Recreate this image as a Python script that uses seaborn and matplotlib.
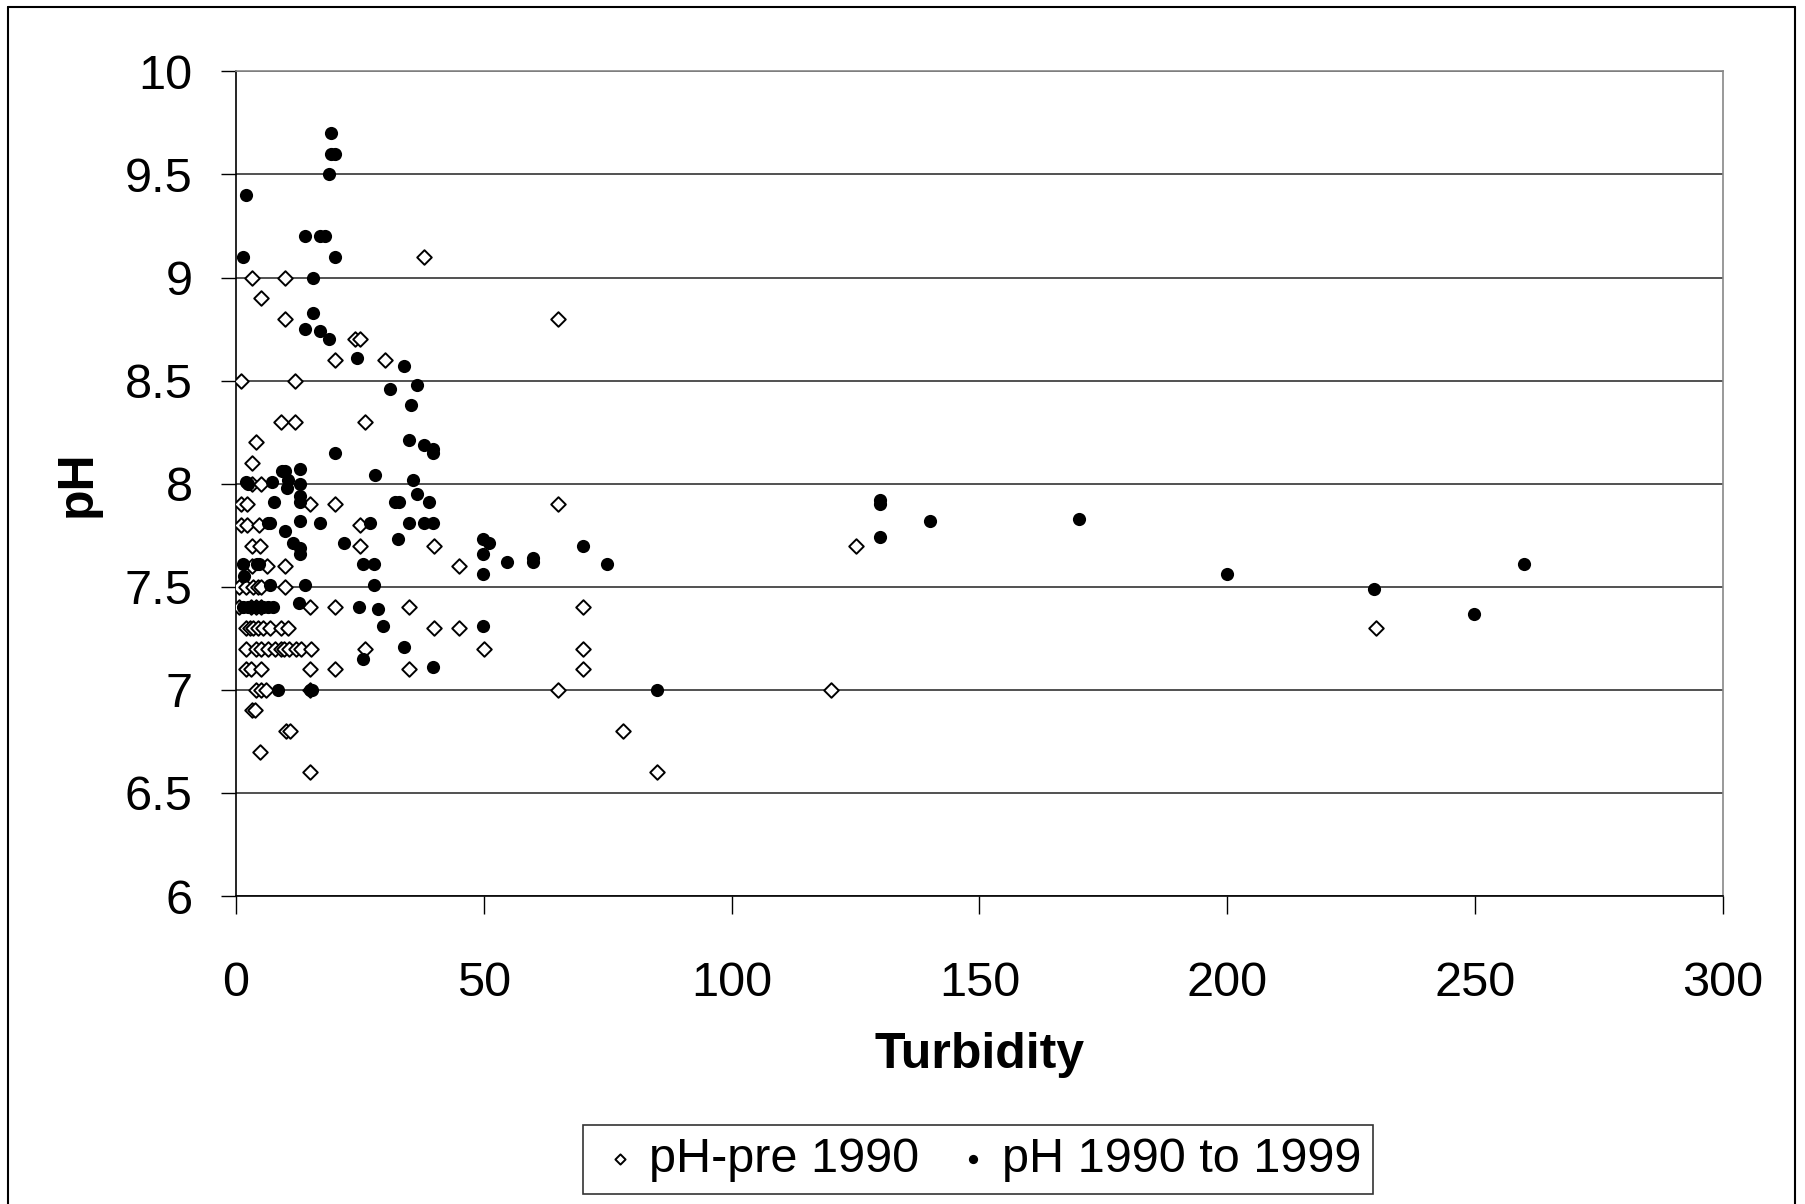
import numpy as np
import pandas as pd
import matplotlib
matplotlib.use("Agg")
import matplotlib.pyplot as plt
from matplotlib.ticker import FormatStrFormatter
from matplotlib.lines import Line2D
import seaborn as sns

# ---- data: pH-pre 1990 (open diamonds) ----
pre_turbidity = [38, 3.2, 10, 5, 10, 24, 25, 20, 30, 1, 12, 65,
                 9, 12, 26, 4, 3.2, 3.2, 5,
                 1, 2.2, 15, 20, 65,
                 1, 2.2, 4.7, 25,
                 3.2, 4.8, 25, 40, 125,
                 3.2, 6.3, 10, 45,
                 0.7, 2.1, 3.4, 4.4, 5.1, 10,
                 0.7, 3, 4, 5, 15, 20, 35, 70,
                 2.1, 2.8, 3.4, 4.4, 5.4, 6.8, 9.1, 10.5, 40, 45, 230,
                 2.1, 4.1, 5.1, 6.5, 7.8, 9.1, 9.8, 10.8, 12.2, 13.2, 15.2, 26, 50, 70,
                 2.1, 3, 5.1, 15, 20, 35, 70,
                 4.1, 5.1, 6.1, 15, 65, 120,
                 3.2, 3.8,
                 10.2, 10.9, 78,
                 4.8,
                 15, 85]
pre_ph = [9.1, 9.0, 9.0, 8.9, 8.8, 8.7, 8.7, 8.6, 8.6, 8.5, 8.5, 8.8,
          8.3, 8.3, 8.3, 8.2, 8.1, 8.0, 8.0,
          7.9, 7.9, 7.9, 7.9, 7.9,
          7.8, 7.8, 7.8, 7.8,
          7.7, 7.7, 7.7, 7.7, 7.7,
          7.6, 7.6, 7.6, 7.6,
          7.5, 7.5, 7.5, 7.5, 7.5, 7.5,
          7.4, 7.4, 7.4, 7.4, 7.4, 7.4, 7.4, 7.4,
          7.3, 7.3, 7.3, 7.3, 7.3, 7.3, 7.3, 7.3, 7.3, 7.3, 7.3,
          7.2, 7.2, 7.2, 7.2, 7.2, 7.2, 7.2, 7.2, 7.2, 7.2, 7.2, 7.2, 7.2, 7.2,
          7.1, 7.1, 7.1, 7.1, 7.1, 7.1, 7.1,
          7.0, 7.0, 7.0, 7.0, 7.0, 7.0,
          6.9, 6.9,
          6.8, 6.8, 6.8,
          6.7,
          6.6, 6.6]

# ---- data: pH 1990 to 1999 (filled circles) ----
new_turbidity = [19.1, 19.1, 20, 18.7, 2, 14, 17, 18, 1.5, 20, 15.6, 15.6, 14, 17, 18.7,
                 24.4, 34, 36.6, 31, 35.3, 35, 38, 39.7, 39.7, 20,
                 9.2, 10, 13, 28, 35.8, 2.1, 2.5, 7.3, 10.5, 10.4, 13, 36.6,
                 32, 33, 39, 7.7, 13, 13,
                 6.4, 6.9, 13, 9.9, 17, 27, 35, 38, 39.7, 32.7,
                 11.6, 12.9, 12.9, 21.8, 49.8, 51, 49.8, 54.6, 60, 60, 70, 74.8, 49.8,
                 1.5, 4.2, 4.7, 25.7, 27.9, 1.6,
                 6.8, 13.9, 27.9,
                 1.5, 2.5, 3.5, 4.5, 5.5, 6.5, 7.5, 12.8, 24.8, 28.7,
                 29.6, 49.8, 33.9, 25.7, 39.7, 8.5, 14.9, 15.3, 84.9,
                 130, 130, 130, 140, 170, 200, 229.6, 249.8, 259.9]
new_ph = [9.7, 9.6, 9.6, 9.5, 9.4, 9.2, 9.2, 9.2, 9.1, 9.1, 9.0, 8.83, 8.75, 8.74, 8.7,
          8.61, 8.57, 8.48, 8.46, 8.38, 8.21, 8.19, 8.17, 8.15, 8.15,
          8.06, 8.06, 8.07, 8.04, 8.02, 8.01, 8.0, 8.01, 8.02, 7.98, 8.0, 7.95,
          7.91, 7.91, 7.91, 7.91, 7.94, 7.91,
          7.81, 7.81, 7.82, 7.77, 7.81, 7.81, 7.81, 7.81, 7.81, 7.73,
          7.71, 7.69, 7.66, 7.71, 7.73, 7.71, 7.66, 7.62, 7.64, 7.62, 7.70, 7.61, 7.56,
          7.61, 7.61, 7.61, 7.61, 7.61, 7.55,
          7.51, 7.51, 7.51,
          7.4, 7.4, 7.4, 7.4, 7.4, 7.4, 7.4, 7.42, 7.40, 7.39,
          7.31, 7.31, 7.21, 7.15, 7.11, 7.0, 7.0, 7.0, 7.0,
          7.92, 7.90, 7.74, 7.82, 7.83, 7.56, 7.49, 7.37, 7.61]

x_ticks = [0, 50, 100, 150, 200, 250, 300]
y_ticks = [6, 6.5, 7, 7.5, 8, 8.5, 9, 9.5, 10]
x_label = "Turbidity"
y_label = "pH"
series_names = ["pH-pre 1990", "pH 1990 to 1999"]

pre_df = pd.DataFrame({"Turbidity": pre_turbidity, "pH": pre_ph})
new_df = pd.DataFrame({"Turbidity": new_turbidity, "pH": new_ph})

sns.set_theme(style="white")
plt.rcParams["font.family"] = ["Liberation Sans", "DejaVu Sans"]
plt.rcParams["text.color"] = "black"
plt.rcParams["axes.labelcolor"] = "black"
plt.rcParams["xtick.color"] = "black"
plt.rcParams["ytick.color"] = "black"

fig = plt.figure(figsize=(18.05, 12.04), dpi=100)
ax = fig.add_axes([0.1307, 0.2558, 0.8239, 0.6849])

sns.scatterplot(data=pre_df, x="Turbidity", y="pH", marker="D", s=55,
                color="white", edgecolor="black", linewidth=1.4,
                ax=ax, label=series_names[0], zorder=3)
sns.scatterplot(data=new_df, x="Turbidity", y="pH", marker="o", s=90,
                color="black", edgecolor="black", linewidth=0,
                ax=ax, label=series_names[1], zorder=4)

ax.set_xlim(0, 300)
ax.set_ylim(6, 10)
ax.set_xticks(x_ticks)
ax.set_yticks(y_ticks)
ax.yaxis.set_major_formatter(FormatStrFormatter("%g"))
ax.grid(axis="y", color="#222222", linewidth=1.1)
ax.grid(axis="x", visible=False)
ax.set_axisbelow(True)

for side in ["left", "bottom"]:
    ax.spines[side].set_color("black")
    ax.spines[side].set_linewidth(1.2)
for side in ["right", "top"]:
    ax.spines[side].set_color("#888888")
    ax.spines[side].set_linewidth(1.2)

ax.tick_params(axis="y", direction="out", length=11, width=1, color="black",
               labelcolor="black", labelsize=35, pad=20, left=True)
ax.tick_params(axis="x", direction="out", length=13, width=1, color="black",
               labelcolor="black", labelsize=35, pad=34, bottom=True)

ax.set_xlabel(x_label, fontsize=36, fontweight="bold", color="black")
ax.set_ylabel(y_label, fontsize=36, fontweight="bold", color="black")
ax.xaxis.set_label_coords(0.5, -0.165)
ax.yaxis.set_label_coords(-0.091, 0.5)

leg = ax.legend(loc="center", bbox_to_anchor=(0.542, 0.037),
                bbox_transform=fig.transFigure, ncol=2, frameon=True,
                fancybox=False, fontsize=35, markerscale=0.7,
                handletextpad=0.1, columnspacing=0.6, borderpad=0.25,
                handlelength=1.0, borderaxespad=0)
leg.get_frame().set_edgecolor("black")
leg.get_frame().set_linewidth(1.2)
for t in leg.get_texts():
    t.set_color("black")

# outer chart border
W, H = 1805, 1204
x0, x1, y0 = 8 / W, 1795 / W, 1 - 7 / H
for xs, ys in [([x0, x0], [0, y0]), ([x0, x1], [y0, y0]), ([x1, x1], [y0, 0])]:
    fig.add_artist(Line2D(xs, ys, transform=fig.transFigure, color="black", linewidth=1.5))

fig.savefig("out.png", dpi=100, facecolor="white")
